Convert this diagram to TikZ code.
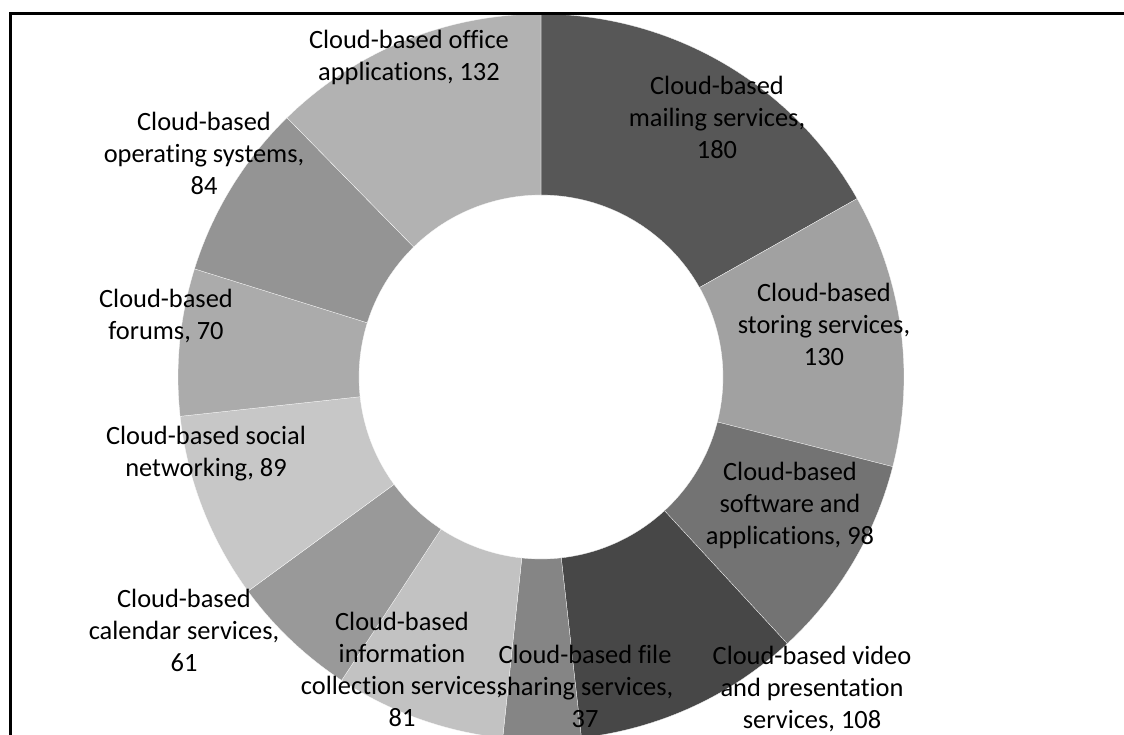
\documentclass[tikz,border=0pt]{standalone}
\usepackage{fontspec}
\setmainfont{Carlito}[Ligatures=NoCommon]
\usepackage{tikz}

\definecolor{mailingGray}{gray}{0.34}
\definecolor{storingGray}{gray}{0.63}
\definecolor{softwareGray}{gray}{0.45}
\definecolor{videoGray}{gray}{0.28}
\definecolor{sharingGray}{gray}{0.52}
\definecolor{infoGray}{gray}{0.76}
\definecolor{calendarGray}{gray}{0.60}
\definecolor{socialGray}{gray}{0.78}
\definecolor{forumsGray}{gray}{0.67}
\definecolor{systemsGray}{gray}{0.58}
\definecolor{officeGray}{gray}{0.70}

\tikzset{
  lbl/.style={align=center, anchor=north, inner sep=0pt}
}

\begin{document}
\begin{tikzpicture}[x=1pt, y=-1pt, font=\fontsize{26.4}{32}\selectfont]
  \clip (0,0) rectangle (1124,734);

  \def\drawSlice#1#2#3{
    \pgfmathsetmacro\angA{-90+#1*0.336449}
    \pgfmathsetmacro\angB{-90+#2*0.336449}
    \fill[shift={(541,377)}, fill=#3, draw=white, line width=0.25]
      (\angA:182) -- (\angA:363)
      arc[start angle=\angA, end angle=\angB, radius=363]
      -- (\angB:182)
      arc[start angle=\angB, end angle=\angA, radius=182] -- cycle;
  }

  \drawSlice{0}{180}{mailingGray}
  \drawSlice{180}{310}{storingGray}
  \drawSlice{310}{408}{softwareGray}
  \drawSlice{408}{516}{videoGray}
  \drawSlice{516}{553}{sharingGray}
  \drawSlice{553}{634}{infoGray}
  \drawSlice{634}{695}{calendarGray}
  \drawSlice{695}{784}{socialGray}
  \drawSlice{784}{854}{forumsGray}
  \drawSlice{854}{938}{systemsGray}
  \drawSlice{938}{1070}{officeGray}

  \node[lbl] (mailing) at (717,76) {Cloud-based\\mailing services,\\180};
  \node[lbl] (storing) at (824,283) {Cloud-based\\storing services,\\130};
  \node[lbl] (software) at (790,462) {Cloud-based\\software and\\applications, 98};
  \node[lbl] (video) at (812,646) {Cloud-based video\\and presentation\\services, 108};
  \node[lbl] (sharing) at (585,645) {Cloud-based file\\sharing services,\\37};
  \node[lbl] (info) at (402,612) {Cloud-based\\information\\collection services,\\81};
  \node[lbl] (calendar) at (184,589) {Cloud-based\\calendar services,\\61};
  \node[lbl] (social) at (206,426) {Cloud-based social\\networking, 89};
  \node[lbl] (forums) at (166,289) {Cloud-based\\forums, 70};
  \node[lbl] (systems) at (204,112) {Cloud-based\\operating systems,\\84};
  \node[lbl] (office) at (409,30) {Cloud-based office\\applications, 132};

  \draw[line width=3] (10,13.5) rectangle (1140,750);
\end{tikzpicture}
\end{document}
